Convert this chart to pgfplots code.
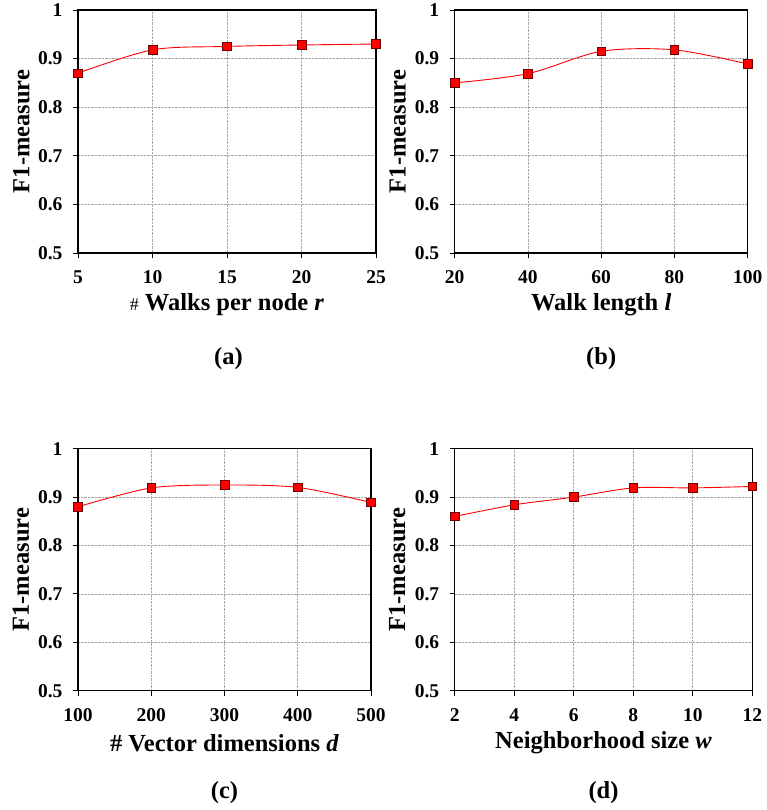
\documentclass[border=0pt]{standalone}
\usepackage{pgfplots}
\pgfplotsset{compat=1.18}
\usepackage{fontspec}
\setmainfont{Liberation Serif}
\tikzset{subcap/.style={font=\fontsize{24.5}{27}\selectfont\bfseries}}
\begin{document}
\begin{tikzpicture}
\useasboundingbox (0pt,0pt) rectangle (766pt,810pt);
\pgfplotsset{
  panel/.style={
    scale only axis, clip=false,
    ymin=0.5, ymax=1,
    ytick={0.5,0.6,0.7,0.8,0.9,1},
    yticklabels={0.5,0.6,0.7,0.8,0.9,1},
    grid=major,
    major grid style={gray!70, densely dotted, line width=0.6pt},
    axis line style={black, line width=1.1pt},
    tick style={black, line width=0.8pt},
    tick align=outside,
    major tick length=5pt,
    xtick pos=bottom, ytick pos=left,
    /pgf/number format/assume math mode=true,
    ticklabel style={font=\fontsize{19.5}{22}\selectfont\bfseries},
    yticklabel style={xshift=-7pt},
    xticklabel style={yshift=-9pt},
    label style={font=\fontsize{24.5}{27}\selectfont\bfseries},
    ylabel={F1-measure},
    ylabel style={anchor=center},
  },
  ser/.style={red, line width=0.9pt, smooth, mark=square*, mark size=4.3pt,
    mark options={fill=red, draw=red!45!black, line width=0.6pt, solid}},
}
% (a)
\begin{axis}[panel, at={(78pt,557pt)}, anchor=south west, width=298pt, height=243pt,
  xmin=5, xmax=25, xtick={5,10,15,20,25},
  xlabel={{\fontsize{18}{20}\selectfont\mdseries\#} Walks per node \textit{r}},
  xlabel style={at={(axis description cs:0.5,-0.214)}, anchor=center},
  ylabel style={at={(axis description cs:-0.19,0.5)}}]
\addplot[ser] coordinates {(5,0.870) (10,0.918) (15,0.925) (20,0.928) (25,0.930)};
\node[subcap] at (axis description cs:0.505,-0.435) {(a)};
\end{axis}
% (b)
\begin{axis}[panel, at={(454.7pt,557pt)}, anchor=south west, width=293pt, height=243pt,
  xmin=20, xmax=100, xtick={20,40,60,80,100},
  xlabel={Walk length \textit{l}},
  xlabel style={at={(axis description cs:0.5,-0.214)}, anchor=center},
  ylabel style={at={(axis description cs:-0.195,0.5)}}]
\addplot[ser] coordinates {(20,0.850) (40,0.869) (60,0.915) (80,0.918) (100,0.889)};
\node[subcap] at (axis description cs:0.5,-0.435) {(b)};
\end{axis}
% (c)
\begin{axis}[panel, at={(78pt,119.3pt)}, anchor=south west, width=293pt, height=242pt,
  xmin=100, xmax=500, xtick={100,200,300,400,500},
  xlabel={\# Vector dimensions \textit{d}},
  xlabel style={at={(axis description cs:0.5,-0.216)}, anchor=center},
  ylabel style={at={(axis description cs:-0.195,0.5)}}]
\addplot[ser] coordinates {(100,0.880) (200,0.919) (300,0.925) (400,0.920) (500,0.889)};
\node[subcap] at (axis description cs:0.5,-0.42) {(c)};
\end{axis}
% (d)
\begin{axis}[panel, at={(454.7pt,119.3pt)}, anchor=south west, width=297.6pt, height=242pt,
  xmin=2, xmax=12, xtick={2,4,6,8,10,12},
  xlabel={Neighborhood size \textit{w}},
  xlabel style={at={(axis description cs:0.5,-0.216)}, anchor=center},
  ylabel style={at={(axis description cs:-0.193,0.5)}}]
\addplot[ser] coordinates {(2,0.860) (4,0.884) (6,0.900) (8,0.919) (10,0.919) (12,0.922)};
\node[subcap] at (axis description cs:0.5,-0.42) {(d)};
\end{axis}
\end{tikzpicture}
\end{document}
